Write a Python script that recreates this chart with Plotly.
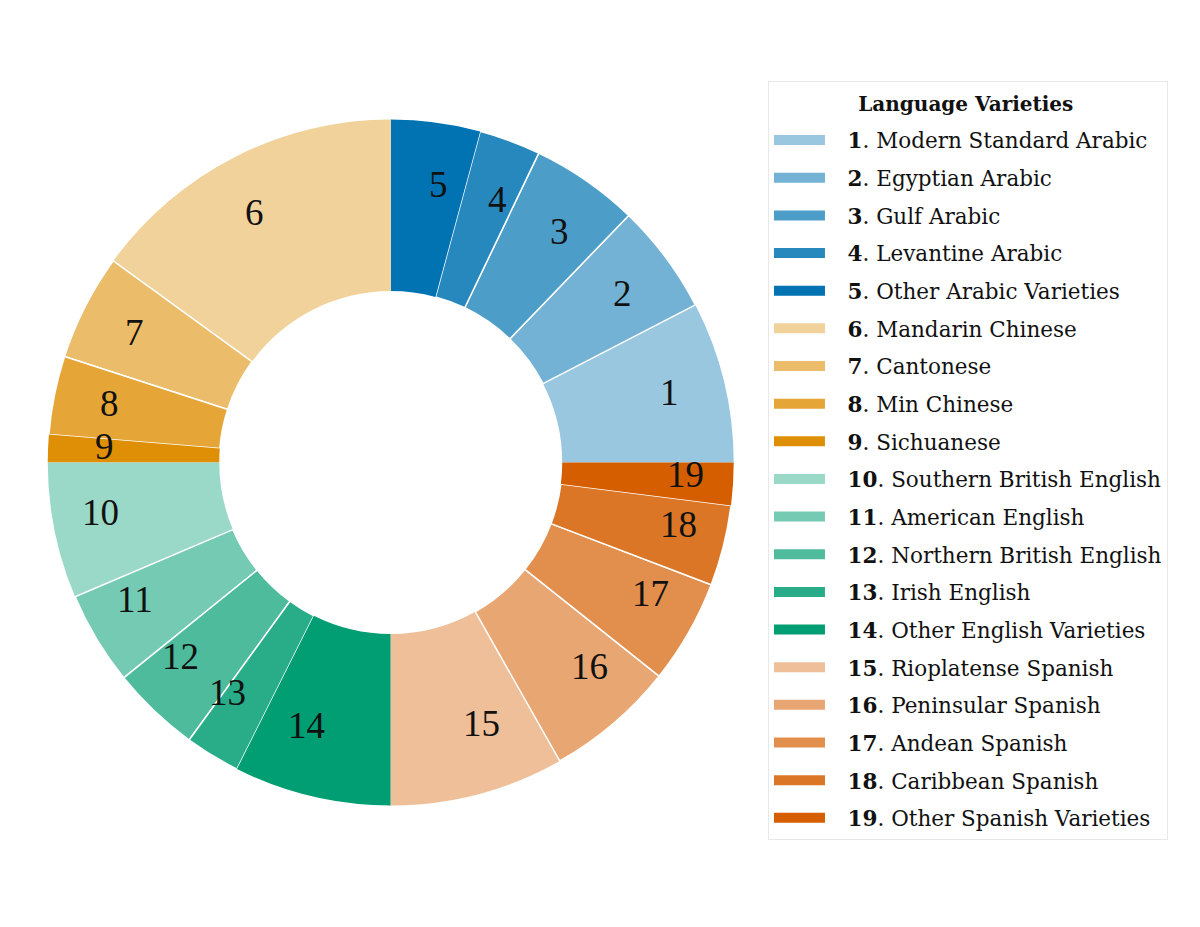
"""
Donut chart of language varieties (4 families x sub-varieties).
Output: out.html
"""

import math

import plotly.graph_objects as go

# ── Data ──────────────────────────────────────────────────────────────────────

numbers = list(range(1, 20))
names = [
    "Modern Standard Arabic", "Egyptian Arabic", "Gulf Arabic",
    "Levantine Arabic", "Other Arabic Varieties",
    "Mandarin Chinese", "Cantonese", "Min Chinese", "Sichuanese",
    "Southern British English", "American English", "Northern British English",
    "Irish English", "Other English Varieties",
    "Rioplatense Spanish", "Peninsular Spanish", "Andean Spanish",
    "Caribbean Spanish", "Other Spanish Varieties",
]
families = ["Arabic"] * 5 + ["Chinese"] * 4 + ["English"] * 5 + ["Spanish"] * 5
shares = [
    7.6, 5.2, 5.1, 2.9, 4.2,        # Arabic
    15.0, 5.0, 3.7, 1.3,            # Chinese
    6.4, 4.4, 4.2, 2.6, 7.4,        # English
    8.2, 6.1, 4.9, 3.8, 2.0,        # Spanish
]
LEGEND_TITLE = "Language Varieties"

# ── Style ─────────────────────────────────────────────────────────────────────

COLORS = [
    "#99C7E0", "#73B2D5", "#4D9DC9", "#2788BE", "#0173B2",
    "#F2D29B", "#EBBC69", "#E5A537", "#DE8F05",
    "#9AD8C7", "#74CAB2", "#4EBB9D", "#28AD88", "#029E73",
    "#EEBF99", "#E8A673", "#E28E4D", "#DB7626", "#D55E00",
]
PIE_X = [0.0331, 0.6048]
PIE_Y = [0.1397, 0.8797]
LABEL_R = 0.802
SERIF = "DejaVu Serif"
NUM_FONT = "Liberation Serif"
PAD = "\u2002\u00a0"          # gap between swatch and label text
TITLE_PAD = "\u2003\u00a0"    # pushes the title row to the centre

# white separators only inside a family, not between families
sep_widths = []
for i, fam in enumerate(families):
    first = i == 0 or families[i - 1] != fam
    last = i == len(families) - 1 or families[i + 1] != fam
    sep_widths.append(0 if (first or last) else 1.5)

# label angles: slice mid-points, counter-clockwise from 3 o'clock
total = sum(shares)
mids = []
acc = 0.0
for s in shares:
    mids.append(2 * math.pi * (acc + s / 2) / total)
    acc += s

# plotly puts the END of the first ccw slice at `rotation`, so shift it
rotation = 90 - 360 * shares[0] / total

fig = go.Figure()

fig.add_trace(go.Pie(
    labels=names,
    values=shares,
    sort=False,
    direction="counterclockwise",
    rotation=rotation,
    hole=0.5,
    domain=dict(x=PIE_X, y=PIE_Y),
    marker=dict(colors=COLORS, line=dict(color="white", width=sep_widths)),
    textinfo="none",
    showlegend=False,
    hovertemplate="%{label}<br>%{percent}<extra></extra>",
))

# legend: a bold heading row, then one wide swatch per variety
fig.add_trace(go.Scatter(
    x=[None], y=[None], mode="lines",
    line=dict(color="rgba(0,0,0,0)", width=0),
    name=f"{TITLE_PAD}<b><span style='font-size:20px'>{LEGEND_TITLE}</span></b>",
    legendgroup="title",
    hoverinfo="skip",
))
for n, name, color in zip(numbers, names, COLORS):
    fig.add_trace(go.Scatter(
        x=[None], y=[None], mode="lines",
        line=dict(color=color, width=10),
        name=f"{PAD}<b>{n}</b>. {name}",
        legendgroup=str(n),
        hoverinfo="skip",
    ))

# slice numbers, left/right aligned away from the vertical axis
for n, a in zip(numbers, mids):
    fig.add_annotation(
        x=LABEL_R * math.cos(a), y=LABEL_R * math.sin(a),
        xref="x", yref="y", text=str(n), showarrow=False,
        xanchor="left" if math.cos(a) > 0 else "right",
        yanchor="middle", yshift=5,
        font=dict(family=NUM_FONT, size=37, color="#111111"),
    )

fig.update_layout(
    width=1200, height=927,
    margin=dict(l=0, r=0, t=0, b=0),
    paper_bgcolor="white",
    plot_bgcolor="rgba(0,0,0,0)",
    xaxis=dict(domain=PIE_X, range=[-1, 1], visible=False, fixedrange=True),
    yaxis=dict(domain=PIE_Y, range=[-1, 1], visible=False, fixedrange=True),
    showlegend=True,
    legend=dict(
        font=dict(family=SERIF, size=21.5, color="#111111"),
        x=0.6333, xanchor="left",
        y=0.9213, yanchor="top",
        bgcolor="white",
        bordercolor="#e8e8e8", borderwidth=1,
        itemwidth=51,
        traceorder="grouped",
        tracegroupgap=6.7,
    ),
)

fig.write_html("out.html")
